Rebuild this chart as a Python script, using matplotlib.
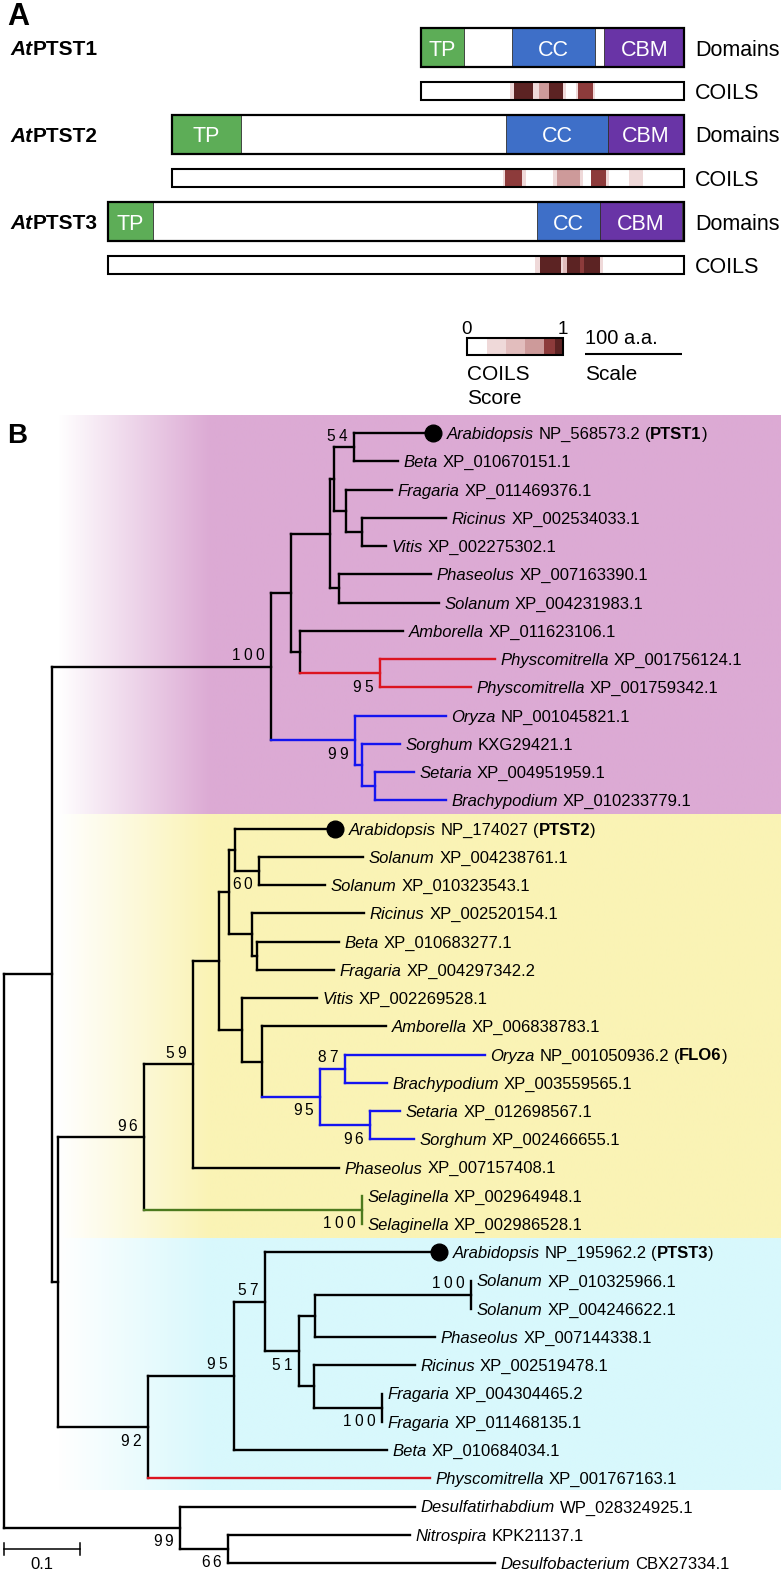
import matplotlib
matplotlib.use('Agg')
import numpy as np
import matplotlib.pyplot as plt
from matplotlib.patches import Rectangle
from matplotlib.collections import LineCollection
import matplotlib.transforms as mtransforms

plt.rcParams['font.family'] = ['Liberation Sans', 'DejaVu Sans']

W, H, DPI = 781, 1570, 100

# ============================ Panel A data ============================
PROTEINS = ['PTST1', 'PTST2', 'PTST3']
PROT_LEN = [271, 528, 594]
TP_RANGE = [(0, 44), (0, 71), (0, 47)]
CC_RANGE = [(94, 179), (344, 450), (442, 507)]
CBM_RANGE = [(189, 271), (450, 528), (507, 592)]
DOMAIN_NAMES = ['TP', 'CC', 'CBM']
DOMAIN_COLORS = ['#5dad57', '#3e6fc8', '#6934a6']
# COILS score segments: (start aa, end aa, score level 0-5)
COILS_PTST1 = [(92, 96, 1), (96, 115, 5), (115, 122, 1), (122, 132, 3), (132, 146, 5),
               (146, 149, 1), (160, 162, 1), (162, 177, 4), (177, 179, 1)]
COILS_PTST2 = [(341, 343, 1), (343, 361, 4), (361, 365, 1), (393, 397, 1), (397, 421, 3),
               (421, 424, 1), (432, 448, 4), (448, 451, 1), (471, 486, 1)]
COILS_PTST3 = [(440, 446, 1), (446, 467, 5), (467, 469, 1), (469, 473, 2), (473, 487, 5),
               (487, 491, 4), (491, 507, 5), (507, 510, 1)]
COILS_ALL = [COILS_PTST1, COILS_PTST2, COILS_PTST3]
COILS_COLORS = ['#ffffff', '#efd9d9', '#e2bdbd', '#cd9a9a', '#8d3b3b', '#5c2323']
COILS_SCALE_TICKS = ['0', '1']
SCALE_AA = 100

# ============================ Panel B data ============================
LEAF_IDS = ['NP_568573.2', 'XP_010670151.1', 'XP_011469376.1', 'XP_002534033.1', 'XP_002275302.1',
            'XP_007163390.1', 'XP_004231983.1', 'XP_011623106.1', 'XP_001756124.1', 'XP_001759342.1',
            'NP_001045821.1', 'KXG29421.1', 'XP_004951959.1', 'XP_010233779.1',
            'NP_174027', 'XP_004238761.1', 'XP_010323543.1', 'XP_002520154.1', 'XP_010683277.1',
            'XP_004297342.2', 'XP_002269528.1', 'XP_006838783.1', 'NP_001050936.2', 'XP_003559565.1',
            'XP_012698567.1', 'XP_002466655.1', 'XP_007157408.1', 'XP_002964948.1', 'XP_002986528.1',
            'NP_195962.2', 'XP_010325966.1', 'XP_004246622.1', 'XP_007144338.1', 'XP_002519478.1',
            'XP_004304465.2', 'XP_011468135.1', 'XP_010684034.1', 'XP_001767163.1',
            'WP_028324925.1', 'KPK21137.1', 'CBX27334.1']
LEAF_GENUS = ['Arabidopsis', 'Beta', 'Fragaria', 'Ricinus', 'Vitis', 'Phaseolus', 'Solanum', 'Amborella',
              'Physcomitrella', 'Physcomitrella', 'Oryza', 'Sorghum', 'Setaria', 'Brachypodium',
              'Arabidopsis', 'Solanum', 'Solanum', 'Ricinus', 'Beta', 'Fragaria', 'Vitis', 'Amborella',
              'Oryza', 'Brachypodium', 'Setaria', 'Sorghum', 'Phaseolus', 'Selaginella', 'Selaginella',
              'Arabidopsis', 'Solanum', 'Solanum', 'Phaseolus', 'Ricinus', 'Fragaria', 'Fragaria', 'Beta',
              'Physcomitrella', 'Desulfatirhabdium', 'Nitrospira', 'Desulfobacterium']
LEAF_NOTES = {'NP_568573.2': 'PTST1', 'NP_174027': 'PTST2', 'NP_001050936.2': 'FLO6', 'NP_195962.2': 'PTST3'}
DOT_LEAVES = ['NP_568573.2', 'NP_174027', 'NP_195962.2']

# Newick tree; branch lengths in substitutions/site; internal labels = bootstrap + side (a above, b below)
TREE_NEWICK = """
(((((((NP_568573.2:0.1039,XP_010670151.1:0.0579)54a:0.0263,
(XP_011469376.1:0.0605,(XP_002534033.1:0.1105,XP_002275302.1:0.0316):0.0211):0.0158):0.0053,
(XP_007163390.1:0.1211,XP_004231983.1:0.1316):0.0118):0.0513,
(XP_011623106.1:0.1355,(XP_001756124.1:0.1513,XP_001759342.1:0.1197)95b:0.1053):0.0118):0.0263,
(NP_001045821.1:0.1197,(KXG29421.1:0.0500,(XP_004951959.1:0.0513,XP_010233779.1:0.0934):0.0171):0.0092)99b:0.1105
)100a:0.2875,
((((((NP_174027:0.1316,(XP_004238761.1:0.1368,XP_010323543.1:0.0868)60b:0.0316):0.0079,
(XP_002520154.1:0.1474,(XP_010683277.1:0.1079,XP_004297342.2:0.1013):0.0066):0.0303):0.0132,
(XP_002269528.1:0.0987,(XP_006838783.1:0.1632,((NP_001050936.2:0.1842,XP_003559565.1:0.0553)87a:0.0329,
(XP_012698567.1:0.0395,XP_002466655.1:0.0579)96b:0.0658)95b:0.0763):0.0263):0.0303):0.0342,
XP_007157408.1:0.1921)59a:0.0645,
(XP_002964948.1:0,XP_002986528.1:0)100b:0.2868)96a:0.1132,
(((NP_195962.2:0.2289,(((XP_010325966.1:0,XP_004246622.1:0)100a:0.2053,XP_007144338.1:0.1579):0.0211,
(XP_002519478.1:0.1329,(XP_004304465.2:0,XP_011468135.1:0)100b:0.0895):0.0197)51b:0.0447)57a:0.0408,
XP_010684034.1:0.2013)95a:0.1132,
XP_001767163.1:0.3711)92b:0.1184):0.0072):0.0638,
(WP_028324925.1:0.3092,(KPK21137.1:0.2395,CBX27334.1:0.3513)66b:0.0632)99b:0.2316);
"""
# coloured clades (defined by two member leaves) and their colours
CLADE_COLORS = [('NP_001045821.1', 'XP_010233779.1', '#1414f0'),
                ('XP_001756124.1', 'XP_001759342.1', '#dc1420'),
                ('NP_001050936.2', 'XP_002466655.1', '#1414f0'),
                ('XP_002964948.1', 'XP_002986528.1', '#4c7a1e'),
                ('XP_001767163.1', 'XP_001767163.1', '#dc1420')]
# background groups: (first leaf, last leaf, colour)
GROUP_BANDS = [('NP_568573.2', 'XP_010233779.1', '#dcaad4'),
               ('NP_174027', 'XP_002986528.1', '#faf3b5'),
               ('NP_195962.2', 'XP_001767163.1', '#d8f8fc')]
TREE_SCALE = 0.1

# ============================ figure ============================
fig = plt.figure(figsize=(W / DPI, H / DPI), dpi=DPI)


def rect_px(x0, y0, w, h):
    return [x0 / W, 1 - (y0 + h) / H, w / W, h / H]


# ---------------- Panel A ----------------
PX_PER_AA = 0.97
C_TERM_PX = 684
A_H = 420
axA = fig.add_axes(rect_px(0, 0, W, A_H))
axA.set_xlim(-C_TERM_PX / PX_PER_AA, (W - C_TERM_PX) / PX_PER_AA)
axA.set_ylim(A_H, 0)
axA.axis('off')


def ax_x(px):
    return (px - C_TERM_PX) / PX_PER_AA


ROW_TOP = [28, 115, 202]
DOM_H = 39
COIL_OFF = 54
COIL_H = 17.5
LAB_FS = 15.5
blend = mtransforms.blended_transform_factory(axA.transAxes, axA.transData)

for k, name in enumerate(PROTEINS):
    L = PROT_LEN[k]
    x0 = -L
    top = ROW_TOP[k]
    axA.add_patch(Rectangle((x0, top), L, DOM_H, fc='white', ec='none', zorder=1))
    for (s, e), dname, col in zip([TP_RANGE[k], CC_RANGE[k], CBM_RANGE[k]], DOMAIN_NAMES, DOMAIN_COLORS):
        axA.add_patch(Rectangle((x0 + s, top), e - s, DOM_H, fc=col, ec='#303030', lw=0.6, zorder=2))
        axA.text(x0 + (s + e) / 2, top + DOM_H / 2, dname, color='white', ha='center',
                 va='center_baseline', fontsize=LAB_FS, zorder=4)
    axA.add_patch(Rectangle((x0, top), L, DOM_H, fc='none', ec='black', lw=1.6, zorder=3))
    # COILS bar
    ctop = top + COIL_OFF
    axA.add_patch(Rectangle((x0, ctop), L, COIL_H, fc='white', ec='none', zorder=1))
    for s, e, lev in COILS_ALL[k]:
        axA.add_patch(Rectangle((x0 + s, ctop), e - s, COIL_H, fc=COILS_COLORS[lev], ec='none', zorder=2))
    axA.add_patch(Rectangle((x0, ctop), L, COIL_H, fc='none', ec='black', lw=1.5, zorder=3))
    # labels
    t1 = axA.annotate('At', xy=(10 / W, top + DOM_H / 2), xycoords=blend, ha='left',
                      va='center_baseline', style='italic', weight='bold', fontsize=15)
    axA.annotate(name, xy=(1, 0), xycoords=t1, ha='left', va='bottom', weight='bold', fontsize=15)
    axA.text(ax_x(695), top + DOM_H / 2, 'Domains', ha='left', va='center_baseline', fontsize=LAB_FS)
    axA.text(ax_x(695), ctop + COIL_H / 2, 'COILS', ha='left', va='center_baseline', fontsize=LAB_FS)

# COILS score legend
CB_X0, CB_TOP, CB_H = 467, 338, 17
CB_WIDTHS_PX = [20, 19, 19, 19, 11, 8]
xcur = CB_X0
for w, col in zip(CB_WIDTHS_PX, COILS_COLORS):
    axA.add_patch(Rectangle((ax_x(xcur), CB_TOP), w / PX_PER_AA, CB_H, fc=col, ec='none'))
    xcur += w
axA.add_patch(Rectangle((ax_x(CB_X0), CB_TOP), (xcur - CB_X0) / PX_PER_AA, CB_H, fc='none',
                        ec='black', lw=1.5))
axA.text(ax_x(CB_X0), 328, COILS_SCALE_TICKS[0], ha='center', va='center_baseline', fontsize=13.5)
axA.text(ax_x(xcur), 328, COILS_SCALE_TICKS[1], ha='center', va='center_baseline', fontsize=13.5)
axA.text(ax_x(CB_X0), 373, 'COILS', ha='left', va='center_baseline', fontsize=15)
axA.text(ax_x(CB_X0), 396, 'Score', ha='left', va='center_baseline', fontsize=15)
# aa scale bar
sb0 = ax_x(585)
axA.plot([sb0, sb0 + SCALE_AA], [354, 354], color='black', lw=1.5, solid_capstyle='butt')
axA.text(sb0, 337, '%d a.a.' % SCALE_AA, ha='left', va='center_baseline', fontsize=14.5)
axA.text(sb0, 373, 'Scale', ha='left', va='center_baseline', fontsize=15)

fig.text(7 / W, 1 - 25 / H, 'A', ha='left', va='baseline', weight='bold', fontsize=22)
fig.text(7 / W, 1 - 443 / H, 'B', ha='left', va='baseline', weight='bold', fontsize=20)


# ---------------- Panel B ----------------
def parse_newick(s):
    s = ''.join(s.split())
    pos = [0]

    def node():
        n = {'children': [], 'name': '', 'length': 0.0}
        if s[pos[0]] == '(':
            pos[0] += 1
            while True:
                n['children'].append(node())
                ch = s[pos[0]]
                if ch == ',':
                    pos[0] += 1
                    continue
                if ch == ')':
                    pos[0] += 1
                    break
                raise ValueError('bad newick at %d' % pos[0])
        st = pos[0]
        while s[pos[0]] not in ':,();':
            pos[0] += 1
        n['name'] = s[st:pos[0]]
        if s[pos[0]] == ':':
            pos[0] += 1
            st = pos[0]
            while s[pos[0]] not in ',();':
                pos[0] += 1
            n['length'] = float(s[st:pos[0]])
        return n

    return node()


tree = parse_newick(TREE_NEWICK)
leaves = []
preorder = []


def layout(n, xpar):
    n['x'] = xpar + n['length']
    n['color'] = None
    preorder.append(n)
    if n['children']:
        for c in n['children']:
            layout(c, n['x'])
        n['y'] = (n['children'][0]['y'] + n['children'][-1]['y']) / 2
        n['leafset'] = set().union(*[c['leafset'] for c in n['children']])
    else:
        n['y'] = len(leaves)
        n['leafset'] = {n['name']}
        leaves.append(n)


tree['length'] = 0.0
layout(tree, 0.0)


def set_color(n, col):
    n['color'] = col
    for c in n['children']:
        set_color(c, col)


for a, b, col in CLADE_COLORS:
    mrca = [n for n in preorder if a in n['leafset'] and b in n['leafset']][-1]
    set_color(mrca, col)

TREE_PX_PER_UNIT = 760
ROOT_PX = 4
LEAF0_PX = 433
LEAF_STEP = 28.25
B_TOP = 400
axB = fig.add_axes(rect_px(0, B_TOP, W, H - B_TOP))
axB.axis('off')
xl = ((0 - ROOT_PX) / TREE_PX_PER_UNIT, (W - ROOT_PX) / TREE_PX_PER_UNIT)
yl = ((H - LEAF0_PX) / LEAF_STEP, (B_TOP - LEAF0_PX) / LEAF_STEP)

# background bands with gradient
leaf_index = {lf['name']: lf['y'] for lf in leaves}
g_start = (58 - ROOT_PX) / TREE_PX_PER_UNIT
g_full = (210 - ROOT_PX) / TREE_PX_PER_UNIT
xs = np.linspace(g_start, xl[1], 600)
alpha = np.clip((xs - g_start) / (g_full - g_start), 0, 1)
for i, (first, last, col) in enumerate(GROUP_BANDS):
    y0 = leaf_index[first] - 0.5
    y1 = leaf_index[last] + 0.5
    if i == 0:
        y0 = leaf_index[first] - 0.6
    if i == len(GROUP_BANDS) - 1:
        y1 = leaf_index[last] + 0.42
    rgb = np.array(matplotlib.colors.to_rgb(col))
    img = (1 - alpha[:, None]) * np.ones(3) + alpha[:, None] * rgb
    img = img[None, :, :]
    axB.imshow(img, extent=(g_start, xl[1], y1, y0), aspect='auto', interpolation='bilinear',
               zorder=0)

# branches
segs, cols = [], []
for n in preorder:
    if n['children']:
        c0, c1 = n['children'][0], n['children'][-1]
        segs.append([(n['x'], c0['y']), (n['x'], c1['y'])])
        cols.append(n['color'] or 'black')
        for c in n['children']:
            if c['x'] > n['x']:
                segs.append([(n['x'], c['y']), (c['x'], c['y'])])
                cols.append(c['color'] or 'black')
lc = LineCollection(segs, colors=cols, linewidths=1.7, capstyle='projecting', zorder=3)
axB.add_collection(lc)

# dots
for lf in leaves:
    if lf['name'] in DOT_LEAVES:
        axB.plot(lf['x'], lf['y'], 'o', color='black', ms=12, zorder=4)

# leaf labels
genus_of = dict(zip(LEAF_IDS, LEAF_GENUS))
FS = 12
for lf in leaves:
    name = lf['name']
    off = 10 if name in DOT_LEAVES else 4
    t = axB.annotate(genus_of[name], xy=(lf['x'], lf['y']), xytext=(off, 0), textcoords='offset points',
                     ha='left', va='center_baseline', style='italic', fontsize=FS, zorder=5)
    t2 = axB.annotate(name, xy=(1, 0), xycoords=t, xytext=(3.5, 0), textcoords='offset points',
                      ha='left', va='bottom', fontsize=FS, zorder=5)
    if name in LEAF_NOTES:
        t3 = axB.annotate('(', xy=(1, 0), xycoords=t2, xytext=(3, 0), textcoords='offset points',
                          ha='left', va='bottom', fontsize=FS)
        t4 = axB.annotate(LEAF_NOTES[name], xy=(1, 0), xycoords=t3, xytext=(0, 0),
                          textcoords='offset points', ha='left', va='bottom', fontsize=FS, weight='bold')
        axB.annotate(')', xy=(1, 0), xycoords=t4, xytext=(0, 0), textcoords='offset points',
                     ha='left', va='bottom', fontsize=FS)

# bootstrap supports
SUP_FS = 11.2
SUP_ADV = 8.4
for n in preorder:
    if n['children'] and n['name']:
        val, side = n['name'][:-1], n['name'][-1]
        dy = 9 if side == 'a' else -9
        for k, ch in enumerate(reversed(val)):
            axB.annotate(ch, xy=(n['x'], n['y']), xytext=(-5 - k * SUP_ADV, dy), textcoords='offset points',
                         ha='right', va='center_baseline', fontsize=SUP_FS, zorder=5)

# scale bar
ysb = len(leaves) - 1.5
tick = 0.21
axB.plot([0, TREE_SCALE], [ysb, ysb], color='black', lw=1.1)
axB.plot([0, 0], [ysb - tick, ysb + tick], color='black', lw=1.1)
axB.plot([TREE_SCALE, TREE_SCALE], [ysb - tick, ysb + tick], color='black', lw=1.1)
axB.text(TREE_SCALE / 2, len(leaves) - 1, '%g' % TREE_SCALE, ha='center', va='center_baseline',
         fontsize=12)

axB.set_xlim(*xl)
axB.set_ylim(*yl)

fig.savefig('out.png', dpi=DPI)
